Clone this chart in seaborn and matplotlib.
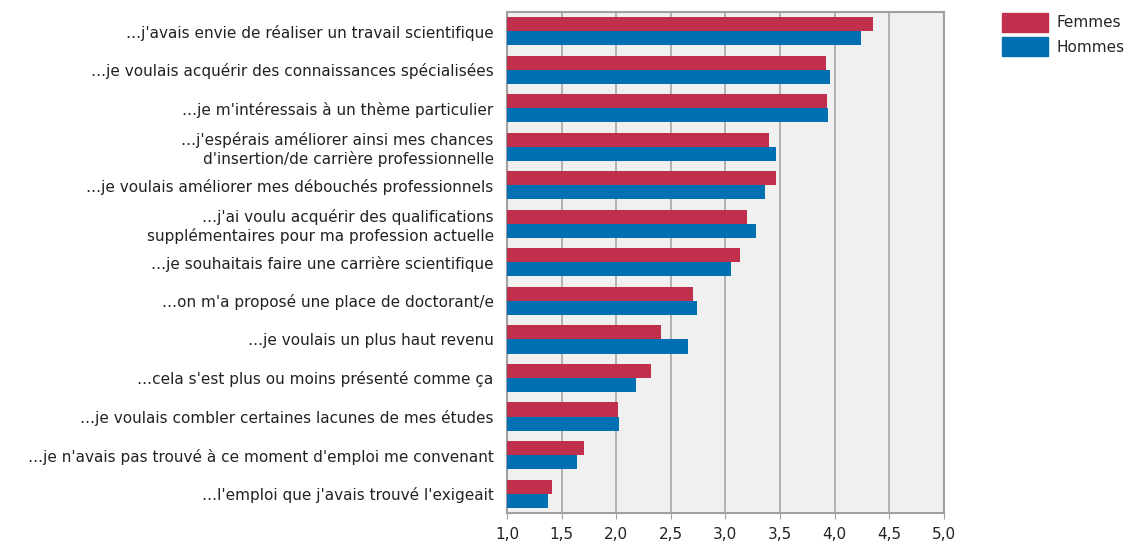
#!/usr/bin/env python3
import pandas as pd
import matplotlib
matplotlib.use('Agg')
import matplotlib.pyplot as plt
import matplotlib.ticker as ticker
import seaborn as sns

motifs = [
    "…j'avais envie de réaliser un travail scientifique",
    "…je voulais acquérir des connaissances spécialisées",
    "…je m'intéressais à un thème particulier",
    "…j'espérais améliorer ainsi mes chances\nd'insertion/de carrière professionnelle",
    "…je voulais améliorer mes débouchés professionnels",
    "…j'ai voulu acquérir des qualifications\nsupplémentaires pour ma profession actuelle",
    "…je souhaitais faire une carrière scientifique",
    "…on m'a proposé une place de doctorant/e",
    "…je voulais un plus haut revenu",
    "…cela s'est plus ou moins présenté comme ça",
    "…je voulais combler certaines lacunes de mes études",
    "…je n'avais pas trouvé à ce moment d'emploi me convenant",
    "…l'emploi que j'avais trouvé l'exigeait",
]
femmes = [4.35, 3.92, 3.93, 3.40, 3.46, 3.20, 3.13, 2.70, 2.41, 2.32, 2.02, 1.71, 1.41]
hommes = [4.24, 3.96, 3.94, 3.46, 3.36, 3.28, 3.05, 2.74, 2.66, 2.18, 2.03, 1.64, 1.38]
groupes = ['Femmes', 'Hommes']
couleurs = ['#c0304d', '#0070b2']
xticks = [1.0, 1.5, 2.0, 2.5, 3.0, 3.5, 4.0, 4.5, 5.0]


def main():
    sns.set_style('white')
    plt.rcParams['font.family'] = ['DejaVu Sans']

    df = pd.DataFrame({
        'motif': motifs * 2,
        'score': femmes + hommes,
        'sexe': ['Femmes'] * len(motifs) + ['Hommes'] * len(motifs),
    })

    fig = plt.figure(figsize=(11.29, 5.45), dpi=100)
    ax = fig.add_axes([0.449, 0.059, 0.387, 0.919])
    ax.set_facecolor('#f0f0f0')

    sns.barplot(data=df, y='motif', x='score', hue='sexe', orient='h',
                palette=couleurs, hue_order=groupes, width=0.73,
                saturation=1, linewidth=0, ax=ax, zorder=3, legend=False)

    ax.set_xlim(1.0, 5.0)
    ax.set_xticks(xticks)
    ax.xaxis.set_major_formatter(ticker.FuncFormatter(lambda v, p: f'{v:.1f}'.replace('.', ',')))
    ax.grid(axis='x', color='#a6a6a6', linewidth=1.2, zorder=0)
    ax.set_axisbelow(True)
    for s in ax.spines.values():
        s.set_color('#a0a0a0')
        s.set_linewidth(1.5)
    ax.tick_params(axis='x', bottom=True, length=4, color='#a0a0a0', labelsize=11,
                   pad=6, labelcolor='#222222')
    ax.tick_params(axis='y', left=False, labelsize=11, pad=6, labelcolor='#222222')
    ax.set_xlabel('')
    ax.set_ylabel('')

    # legend sits outside the plot, top right
    handles = [plt.Rectangle((0, 0), 1, 1, color=c) for c in couleurs]
    fig.legend(handles, groupes, loc='upper left', bbox_to_anchor=(0.8875, 0.977),
               frameon=False, fontsize=11, handlelength=3.0, handleheight=1.6,
               handletextpad=0.6, labelspacing=0.3, borderaxespad=0, borderpad=0)

    fig.savefig('out.png', dpi=100)


if __name__ == "__main__":
    main()
